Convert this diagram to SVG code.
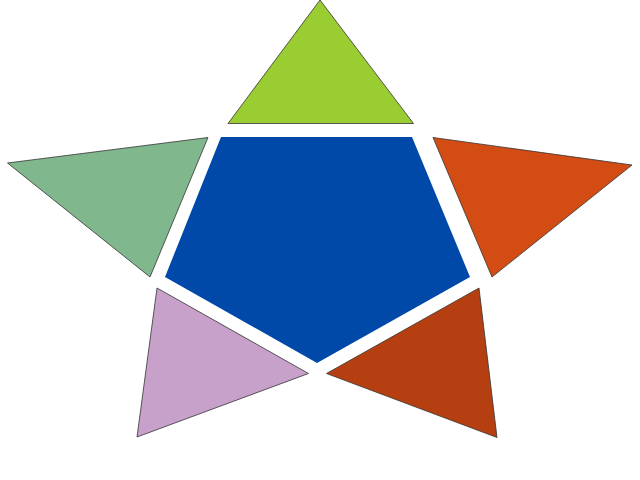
<svg xmlns="http://www.w3.org/2000/svg" width="640" height="480" viewBox="0 0 640 480">
<style>
.t{stroke:#333;stroke-width:0.8;stroke-linejoin:miter}
</style>
<rect width="640" height="480" fill="#fff"/>
<polygon id="pentagon" points="221,137 412,137 470,277 317,363 165,277" fill="#0049A9"/>
<polygon id="top" class="t" points="320,0 228,123.5 413.5,123.5" fill="#9ACD32"/>
<polygon id="left" class="t" points="7.5,163 208,137.5 150,277" fill="#81B78C"/>
<polygon id="right" class="t" points="433,137.5 632,165 492,277" fill="#D34C13"/>
<polygon id="bottomleft" class="t" points="157,288 308.5,373.5 137,437" fill="#C8A1CA"/>
<polygon id="bottomright" class="t" points="479,288 497,437.5 326.5,373.5" fill="#B53F10"/>
</svg>
